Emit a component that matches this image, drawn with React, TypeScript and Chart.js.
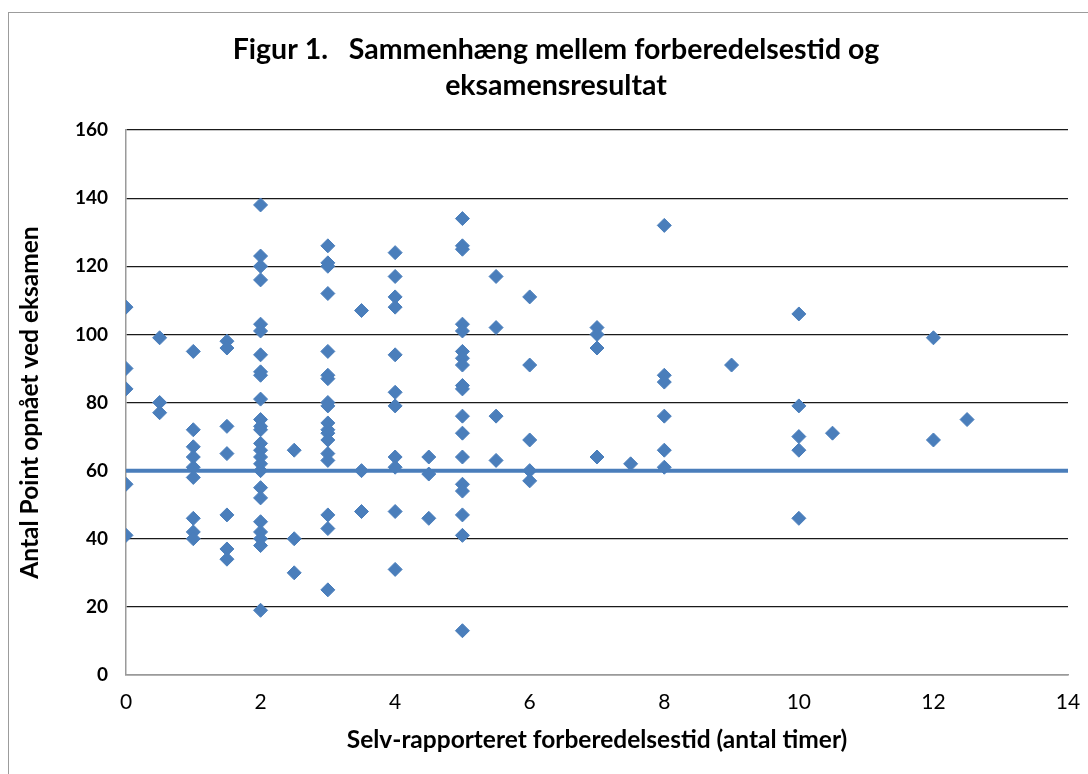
import React, { useEffect, useRef } from "react";
import { Chart, registerables } from "chart.js";

Chart.register(...registerables);

const chartTitle = ["Figur 1.   Sammenhæng mellem forberedelsestid og", "eksamensresultat"];
const xAxisTitle = "Selv-rapporteret forberedelsestid (antal timer)";
const yAxisTitle = "Antal Point opnået ved eksamen";

// Self-reported preparation hours (one entry per group)
const hourLevels = [0, 0.5, 1, 1.5, 2, 2.5, 3, 3.5, 4, 4.5, 5, 5.5, 6, 7, 7.5, 8, 9, 10, 10.5, 12, 12.5];

// Exam points for the students at each hour level (same order as hourLevels)
const pointsAtLevel = [
  [108, 90, 84, 56, 41],
  [99, 80, 77],
  [95, 72, 67, 64, 61, 58, 46, 42, 40],
  [98, 96, 73, 65, 47, 37, 34],
  [138, 123, 120, 116, 103, 101, 94, 89, 88, 81, 75, 73, 72, 68, 66, 64, 62, 60, 55, 52, 45, 42, 40, 38, 19],
  [66, 40, 30],
  [126, 121, 120, 112, 95, 88, 87, 80, 79, 74, 72, 71, 69, 65, 63, 47, 43, 25],
  [107, 60, 48],
  [124, 117, 111, 108, 94, 83, 79, 64, 61, 48, 31],
  [64, 59, 46],
  [134, 126, 125, 103, 101, 95, 93, 91, 85, 84, 76, 71, 64, 56, 54, 47, 41, 13],
  [117, 102, 76, 63],
  [111, 91, 69, 60, 57],
  [102, 100, 96, 64],
  [62],
  [132, 88, 86, 76, 66, 61],
  [91],
  [106, 79, 70, 66, 46],
  [71],
  [99, 69],
  [75],
];

// Horizontal reference line (pass limit)
const passLineX = [0, 14];
const passLineY = [60, 60];

const xMin = 0;
const xMax = 14;
const xStep = 2;
const yMin = 0;
const yMax = 160;
const yStep = 20;

const FONT = "Lato, 'Open Sans', sans-serif";
const BLUE = "#4A7EBB";

export default function App() {
  const canvasRef = useRef<HTMLCanvasElement | null>(null);

  useEffect(() => {
    if (!canvasRef.current) return;
    const scatterData: { x: number; y: number }[] = [];
    hourLevels.forEach((h, i) => {
      pointsAtLevel[i].forEach((p) => scatterData.push({ x: h, y: p }));
    });
    const lineData = passLineX.map((x, i) => ({ x, y: passLineY[i] }));

    const chart = new Chart(canvasRef.current, {
      type: "scatter",
      data: {
        datasets: [
          {
            label: "Point",
            data: scatterData,
            pointStyle: "rectRot",
            pointRadius: 7,
            pointHoverRadius: 7,
            backgroundColor: BLUE,
            borderColor: BLUE,
            borderWidth: 1,
            order: 1,
          },
          {
            label: "Bestået",
            type: "line",
            data: lineData,
            borderColor: BLUE,
            borderWidth: 4,
            pointRadius: 0,
            showLine: true,
            fill: false,
            order: 2,
          } as any,
        ],
      },
      options: {
        responsive: false,
        animation: false,
        layout: {
          autoPadding: false,
          padding: { left: 44, right: 20, top: 0, bottom: 0 },
        } as any,
        plugins: {
          legend: { display: false },
          tooltip: { enabled: false },
          title: {
            display: true,
            text: chartTitle,
            color: "#000",
            font: { family: FONT, size: 28.5, weight: "bold", lineHeight: 36 / 28.5 },
            padding: { top: 32, bottom: 26 },
          },
        },
        scales: {
          x: {
            type: "linear",
            min: xMin,
            max: xMax,
            ticks: {
              stepSize: xStep,
              color: "#000",
              font: { family: FONT, size: 21 },
              padding: 15,
            },
            grid: { display: false, drawTicks: false },
            border: { display: true, color: "#9a9a9a", width: 1.5 },
            title: {
              display: true,
              text: xAxisTitle,
              color: "#000",
              font: { family: FONT, size: 24.5, weight: "bold", lineHeight: 1.2 },
              padding: { top: 0, bottom: 19 },
            },
            afterFit: (s: any) => {
              s.height = 99;
              s.paddingLeft = 0;
              s.paddingRight = 0;
            },
          },
          y: {
            type: "linear",
            min: yMin,
            max: yMax,
            ticks: {
              stepSize: yStep,
              color: "#000",
              font: { family: FONT, size: 19, weight: "bold" },
              padding: 18,
            },
            grid: {
              drawTicks: false,
              color: (ctx: any) => (ctx.tick && ctx.tick.value === 0 ? "#9a9a9a" : "#1a1a1a"),
              lineWidth: (ctx: any) => (ctx.tick && ctx.tick.value === 0 ? 1.5 : 1.2),
            },
            border: { display: true, color: "#9a9a9a", width: 1.5 },
            title: {
              display: true,
              text: yAxisTitle,
              color: "#000",
              font: { family: FONT, size: 24.5, weight: "bold", lineHeight: 1.2 },
              padding: { top: -28.7, bottom: 0 },
            },
            afterFit: (s: any) => {
              s.width = 82;
              s.paddingTop = 0;
              s.paddingBottom = 0;
            },
          },
        },
      },
    });
    return () => chart.destroy();
  }, []);

  return (
    <div style={{ position: "fixed", left: 0, top: 0, width: 1088, height: 774, overflow: "hidden", background: "#fff" }}>
      <div
        style={{
          position: "absolute",
          left: 8,
          top: 12,
          width: 1200,
          height: 900,
          border: "1.5px solid #9c9c9c",
          boxSizing: "border-box",
        }}
      />
      <canvas ref={canvasRef} width={1088} height={774} style={{ position: "absolute", left: 0, top: 0 }} />
    </div>
  );
}
